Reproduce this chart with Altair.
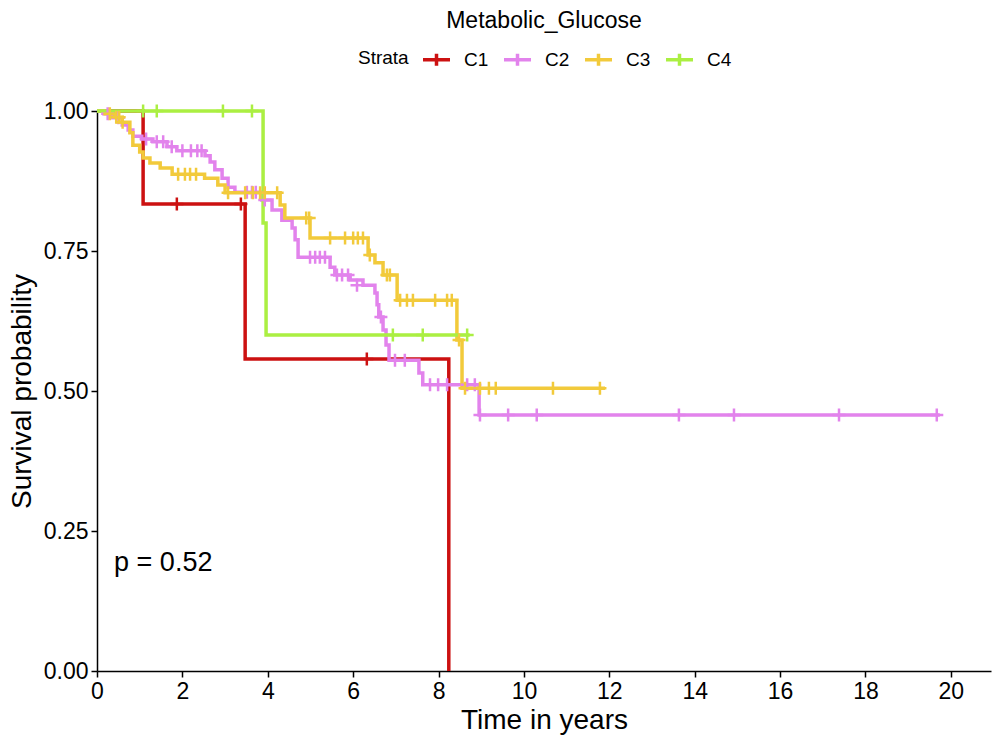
import altair as alt
import pandas as pd

strata = ["C1", "C2", "C3", "C4"]
colors = ["#CC1111", "#E283EC", "#F2CA3B", "#ABEF42"]

# step curves (time in years, survival probability)
c1_time = [0, 1.08, 3.47, 8.24]
c1_surv = [1.0, 0.834, 0.557, 0.0]
c1_cens_time = [1.87, 3.37, 6.32]
c1_cens_surv = [0.834, 0.834, 0.557]

c2_time = [0, 0.16, 0.37, 0.59, 0.73, 0.84, 1.05, 1.31, 1.64, 1.87, 2.53, 2.65, 2.76,
           2.93, 3.07, 3.23, 3.86, 4.10, 4.33, 4.57, 4.64, 4.71, 5.46, 5.57, 5.93, 6.23,
           6.51, 6.56, 6.60, 6.70, 6.77, 6.84, 7.54, 7.63, 8.95, 19.74]
c2_surv = [1.0, 0.995, 0.988, 0.975, 0.966, 0.955, 0.950, 0.945, 0.936, 0.929, 0.920, 0.909, 0.895,
           0.880, 0.864, 0.855, 0.841, 0.823, 0.805, 0.791, 0.770, 0.739, 0.721, 0.707, 0.698, 0.689,
           0.675, 0.654, 0.632, 0.609, 0.582, 0.555, 0.532, 0.511, 0.457, 0.457]
c2_cens_time = [0.25, 0.50, 1.15, 1.40, 1.55, 1.75, 2.00, 2.20, 2.35, 2.45, 3.51, 3.63, 3.72,
                3.93, 4.99, 5.11, 5.22, 5.34, 5.62, 5.74, 5.88, 6.09, 6.65, 6.98, 7.21, 7.80,
                7.99, 8.20, 8.67, 8.85, 8.97, 9.63, 10.30, 13.63, 14.92, 17.38, 19.67]
c2_cens_surv = [0.995, 0.988, 0.950, 0.945, 0.945, 0.936, 0.929, 0.929, 0.929, 0.929, 0.855, 0.855, 0.855,
                0.841, 0.739, 0.739, 0.739, 0.739, 0.707, 0.707, 0.707, 0.689, 0.632, 0.555, 0.555, 0.511,
                0.511, 0.511, 0.511, 0.511, 0.457, 0.457, 0.457, 0.457, 0.457, 0.457, 0.457]

c3_time = [0, 0.19, 0.42, 0.59, 0.77, 0.84, 1.00, 1.08, 1.24, 1.48, 1.76, 2.52, 2.83, 3.00,
           4.29, 4.40, 4.99, 6.35, 6.51, 6.70, 7.03, 8.43, 8.55, 11.90]
c3_surv = [1.0, 0.995, 0.989, 0.980, 0.961, 0.939, 0.927, 0.916, 0.907, 0.898, 0.887, 0.880, 0.868, 0.854,
           0.832, 0.809, 0.773, 0.743, 0.729, 0.707, 0.662, 0.591, 0.505, 0.505]
c3_cens_time = [0.30, 0.45, 0.52, 0.60, 1.90, 2.06, 2.18, 2.32, 3.07, 3.47, 3.65, 3.82, 3.93, 4.22,
                4.90, 4.97, 5.46, 5.81, 6.00, 6.11, 6.23, 6.39, 6.79, 6.86, 7.10, 7.26, 7.40, 7.92,
                8.20, 8.31, 8.48, 8.62, 8.97, 9.18, 9.34, 10.68, 11.78]
c3_cens_surv = [0.995, 0.989, 0.989, 0.980, 0.887, 0.887, 0.887, 0.887, 0.854, 0.854, 0.854, 0.854, 0.854, 0.854,
                0.809, 0.809, 0.773, 0.773, 0.773, 0.773, 0.773, 0.743, 0.707, 0.707, 0.662, 0.662, 0.662, 0.662,
                0.662, 0.662, 0.591, 0.505, 0.505, 0.505, 0.505, 0.505, 0.505]

c4_time = [0, 3.89, 3.96, 8.73]
c4_surv = [1.0, 0.8, 0.6, 0.6]
c4_cens_time = [1.08, 1.40, 2.95, 3.63, 6.93, 7.63, 8.67]
c4_cens_surv = [1.0, 1.0, 1.0, 1.0, 0.6, 0.6, 0.6]

p_label = "p = 0.52"

curves = [(c1_time, c1_surv), (c2_time, c2_surv), (c3_time, c3_surv), (c4_time, c4_surv)]
cens = [(c1_cens_time, c1_cens_surv), (c2_cens_time, c2_cens_surv),
        (c3_cens_time, c3_cens_surv), (c4_cens_time, c4_cens_surv)]

line_rows = []
for s, (ts, ss) in zip(strata, curves):
    for i, (t, v) in enumerate(zip(ts, ss)):
        line_rows.append({"time": t, "surv": v, "strata": s, "idx": i})
lines_df = pd.DataFrame(line_rows)

cens_rows = []
for s, (ts, ss) in zip(strata, cens):
    for t, v in zip(ts, ss):
        cens_rows.append({"time": t, "surv": v, "strata": s})
cens_df = pd.DataFrame(cens_rows)

FONT = "Liberation Sans"

xscale = alt.Scale(domain=[0, 20.94], nice=False, zero=False)
yscale = alt.Scale(domain=[0, 1], nice=False)
color_scale = alt.Scale(domain=strata, range=colors)

xaxis = alt.Axis(values=list(range(0, 21, 2)), title="Time in years", grid=False,
                 labelFontSize=23, titleFontSize=28, labelFont=FONT, titleFont=FONT,
                 labelColor="black", titleColor="black", titleFontWeight="normal",
                 domainColor="black", tickColor="black", domainWidth=1.5, tickWidth=1.5,
                 tickSize=6, labelPadding=3, titlePadding=3, labelFlush=False)
yaxis = alt.Axis(values=[0, 0.25, 0.5, 0.75, 1.0], format=".2f", title="Survival probability",
                 grid=False, labelFontSize=23, titleFontSize=28, labelFont=FONT, titleFont=FONT,
                 labelColor="black", titleColor="black", titleFontWeight="normal",
                 domainColor="black", tickColor="black", domainWidth=1.5, tickWidth=1.5,
                 tickSize=6, labelPadding=3, titlePadding=7, labelFlush=False)

legend_symbol = "M-1,0L1,0M0,-0.45L0,0.45"

lines = alt.Chart(lines_df).mark_line(interpolate="step-after", strokeWidth=3.5).encode(
    x=alt.X("time:Q", scale=xscale, axis=xaxis),
    y=alt.Y("surv:Q", scale=yscale, axis=yaxis),
    color=alt.Color("strata:N", scale=color_scale,
                    legend=alt.Legend(title="Strata", orient="none", direction="horizontal",
                                      legendX=261, legendY=-67, titleOrient="left",
                                      titleFontSize=19, titleFontWeight="normal", titleFont=FONT,
                                      titleColor="black", titlePadding=12,
                                      labelFontSize=19, labelFont=FONT, labelColor="black",
                                      symbolType=legend_symbol, symbolSize=729,
                                      symbolStrokeWidth=3.5, labelOffset=12, columnPadding=8)),
    order="idx:Q",
)

points = alt.Chart(cens_df).mark_point(shape="M-1,0L1,0M0,-1L0,1", filled=False,
                                       strokeWidth=2.5, size=169, opacity=1).encode(
    x=alt.X("time:Q", scale=xscale),
    y=alt.Y("surv:Q", scale=yscale),
    color=alt.Color("strata:N", scale=color_scale, legend=None),
)

ptext = alt.Chart(pd.DataFrame({"time": [0.40], "surv": [0.193], "label": [p_label]})).mark_text(
    align="left", baseline="middle", fontSize=27, font=FONT, color="black"
).encode(x="time:Q", y="surv:Q", text="label:N")

chart = alt.layer(lines, points, ptext).properties(
    width=894, height=560,
    title=alt.TitleParams("Metabolic_Glucose", fontSize=23, font=FONT, fontWeight="normal",
                          color="black", anchor="middle", offset=11),
    autosize=alt.AutoSizeParams(type="none"),
    padding={"left": 97, "top": 111, "right": 6, "bottom": 72},
).configure_view(stroke=None)

chart.save("out.html", embed_options={"renderer": "svg", "actions": False})
